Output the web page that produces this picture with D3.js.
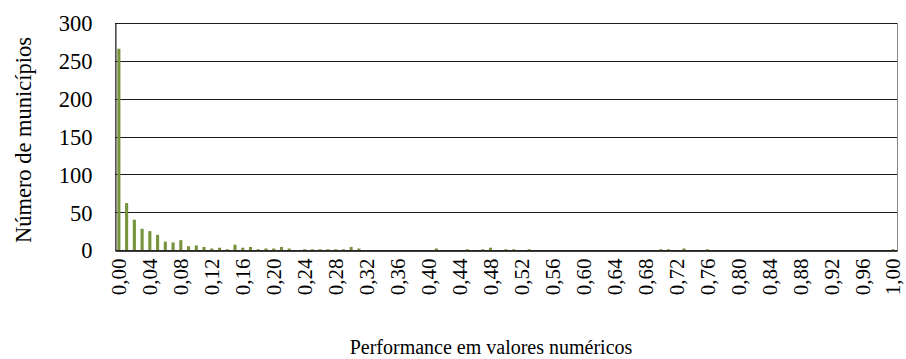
<!DOCTYPE html>
<html>
<head>
<meta charset="utf-8">
<script src="https://cdn.jsdelivr.net/npm/d3@7"></script>
<style>
  html, body { margin: 0; padding: 0; background: #fff; }
</style>
</head>
<body>
<svg id="chart" width="906" height="359"></svg>
<script>
// Performance classes 0,00 … 1,00 in steps of 0,01
const categories = d3.range(0, 101).map(i => i / 100);

// Number of municipalities in each performance class
const counts = [
  266, 62, 40, 28, 25, 20, 11, 10, 13, 5,
  6, 4, 2, 3, 1, 7, 3, 4, 1, 2,
  2, 4, 2, 0, 1, 1, 1, 1, 1, 1,
  4, 2, 0, 0, 0, 0, 0, 0, 0, 0,
  0, 2, 0, 0, 0, 1, 0, 1, 3, 0,
  1, 1, 0, 1, 0, 0, 0, 0, 0, 0,
  0, 0, 0, 0, 0, 0, 0, 0, 0, 0,
  1, 1, 0, 2, 0, 0, 1, 0, 0, 0,
  0, 0, 0, 0, 0, 0, 0, 0, 0, 0,
  0, 0, 0, 0, 0, 0, 0, 0, 0, 0,
  1
];

const yTicks = [0, 50, 100, 150, 200, 250, 300];
const xTickEvery = 4;

const yTitle = "Número de municípios";
const xTitle = "Performance em valores numéricos";

const FONT = "'Liberation Serif', 'Times New Roman', Times, serif";
const fmt = v => v.toFixed(2).replace(".", ",");

const svg = d3.select("#chart");
const plot = { left: 115, right: 897, top: 23, bottom: 250 };

const x = d3.scaleBand()
  .domain(categories)
  .range([plot.left, plot.right])
  .paddingInner(0.6)
  .paddingOuter(0.3);

const y = d3.scaleLinear()
  .domain([0, 300])
  .range([plot.bottom, plot.top]);

// plot area frame
svg.append("rect")
  .attr("x", plot.left + 0.5)
  .attr("y", plot.top + 0.5)
  .attr("width", plot.right - plot.left)
  .attr("height", plot.bottom - plot.top)
  .attr("fill", "none")
  .attr("stroke", "#868686")
  .attr("stroke-width", 1);

// horizontal gridlines
svg.append("g")
  .selectAll("line")
  .data(yTicks.filter(t => t > 0))
  .join("line")
  .attr("x1", plot.left)
  .attr("x2", plot.right)
  .attr("y1", d => Math.round(y(d)) + 0.5)
  .attr("y2", d => Math.round(y(d)) + 0.5)
  .attr("stroke", "#1a1a1a")
  .attr("stroke-width", 1);

// bars
svg.append("g")
  .selectAll("rect")
  .data(categories.map((c, i) => ({ c, v: counts[i] })))
  .join("rect")
  .attr("x", d => x(d.c))
  .attr("width", x.bandwidth())
  .attr("y", d => y(d.v))
  .attr("height", d => y(0) - y(d.v))
  .attr("fill", "#77933c");

// y axis
const yAxis = d3.axisLeft(y).tickValues(yTicks).tickSize(0).tickPadding(23);
const gy = svg.append("g")
  .attr("transform", `translate(${plot.left + 0.5},0)`)
  .call(yAxis)
  .attr("font-family", FONT)
  .attr("font-size", 22);
gy.select(".domain").attr("stroke", "#1a1a1a");
gy.selectAll("text")
  .style("font-family", FONT)
  .style("font-size", "22.5px")
  .attr("fill", "#000")
  .attr("dy", "0.35em");

// x axis
const xAxis = d3.axisBottom(x)
  .tickValues(categories.filter((c, i) => i % xTickEvery === 0))
  .tickFormat(fmt)
  .tickSize(0);
const gx = svg.append("g")
  .attr("transform", `translate(0,${plot.bottom + 0.5})`)
  .call(xAxis)
  .attr("font-family", FONT)
  .attr("font-size", 21);
gx.select(".domain").attr("stroke", "#000").attr("stroke-width", 1.5);
gx.selectAll("text")
  .style("font-family", FONT)
  .style("font-size", "21px")
  .attr("fill", "#000")
  .attr("text-anchor", "end")
  .attr("transform", "rotate(-90)")
  .attr("x", -8)
  .attr("y", 0)
  .attr("dy", "0.35em");

// axis titles
svg.append("text")
  .attr("transform", `translate(31,140) rotate(-90)`)
  .attr("text-anchor", "middle")
  .style("font-family", FONT)
  .style("font-size", "22.5px")
  .text(yTitle);

svg.append("text")
  .attr("x", 491)
  .attr("y", 354)
  .attr("text-anchor", "middle")
  .style("font-family", FONT)
  .style("font-size", "20px")
  .text(xTitle);
</script>
</body>
</html>
